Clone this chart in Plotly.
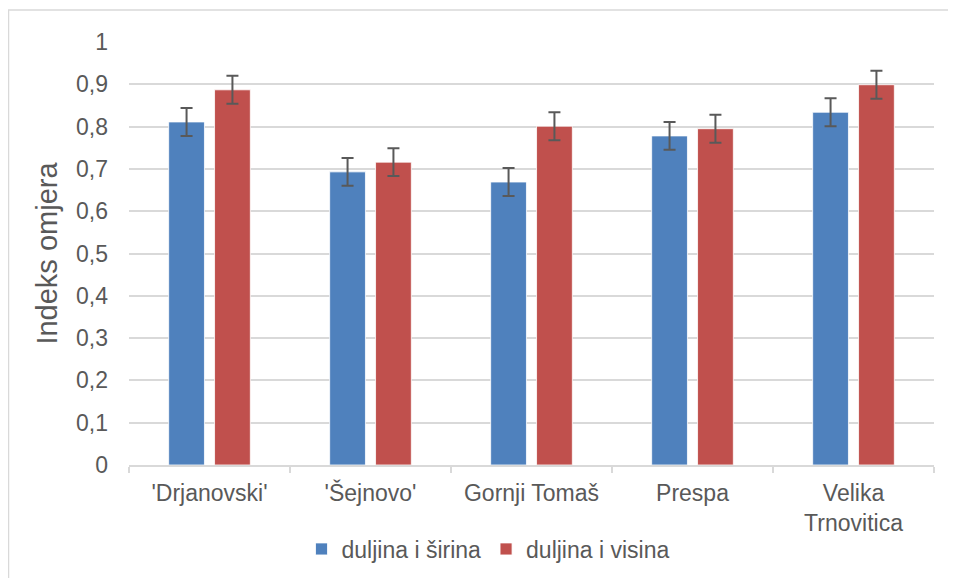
import plotly.graph_objects as go

# data
categories = ["'Drjanovski'", "'Šejnovo'", "Gornji Tomaš", "Prespa", "Velika<br>Trnovitica"]
sirina = [0.811, 0.693, 0.669, 0.778, 0.834]
visina = [0.887, 0.716, 0.801, 0.795, 0.899]
sirina_err = [0.033, 0.033, 0.033, 0.033, 0.033]
visina_err = [0.033, 0.033, 0.033, 0.033, 0.033]
y_ticks = [0, 0.1, 0.2, 0.3, 0.4, 0.5, 0.6, 0.7, 0.8, 0.9, 1]

BLUE = "#4F81BD"
RED = "#C0504D"
TXT = "#595959"
GRID = "#D9D9D9"

fig = go.Figure()

fig.add_trace(go.Bar(
    x=categories, y=sirina, name="duljina i širina",
    marker=dict(color=BLUE, line=dict(color="white", width=0.8)),
    error_y=dict(type="data", array=sirina_err, color=TXT, thickness=2, width=6),
))
fig.add_trace(go.Bar(
    x=categories, y=visina, name="duljina i visina",
    marker=dict(color=RED, line=dict(color="white", width=0.8)),
    error_y=dict(type="data", array=visina_err, color=TXT, thickness=2, width=6),
))

# the page body adds an 8px offset, so margins are given in figure pixels
OFF = 8
W, H = 956, 578
ml, mr, mt, mb = 129 - OFF, 22 + OFF, 42 - OFF, 113 + OFF
pw, ph = W - ml - mr, H - mt - mb

def px_x(p):
    return (p - OFF - ml) / pw

def px_y(p):
    return (H - mb - (p - OFF)) / ph

# outer chart frame (only its left and top edges fall inside the view)
fig.add_shape(
    type="rect", xref="paper", yref="paper",
    x0=px_x(8.5), x1=px_x(1000), y0=px_y(650), y1=px_y(10),
    line=dict(color=GRID, width=1.5), fillcolor="rgba(0,0,0,0)", layer="below",
)

fig.update_layout(
    width=W, height=H,
    margin=dict(l=ml, r=mr, t=mt, b=mb, autoexpand=False),
    paper_bgcolor="white", plot_bgcolor="white",
    separators=", ",
    barmode="group", bargap=0.43, bargroupgap=0.22,
    font=dict(family="Liberation Sans, Arial, sans-serif", color=TXT, size=23),
    legend=dict(
        orientation="h", xref="container", yref="container",
        x=(488 - OFF) / W, xanchor="center", y=1 - (549 - OFF) / H, yanchor="middle",
        font=dict(size=23, color=TXT), itemwidth=30, traceorder="normal",
        bgcolor="rgba(0,0,0,0)",
    ),
    xaxis=dict(
        showline=True, linecolor=GRID, linewidth=1.5, automargin=False,
        ticks="outside", tickson="boundaries", ticklen=6, tickcolor=GRID, tickwidth=1.5,
        ticklabelstandoff=7,
        tickfont=dict(size=23, color=TXT), fixedrange=True,
    ),
    yaxis=dict(
        range=[0, 1.0], tickvals=y_ticks, automargin=False,
        showgrid=True, gridcolor=GRID, gridwidth=1.5, zeroline=False,
        showline=False, ticks="", ticklabelstandoff=20,
        tickfont=dict(size=23, color=TXT),
        title=dict(text="Indeks omjera", font=dict(size=29, color=TXT), standoff=9),
    ),
)

fig.write_html("out.html")
